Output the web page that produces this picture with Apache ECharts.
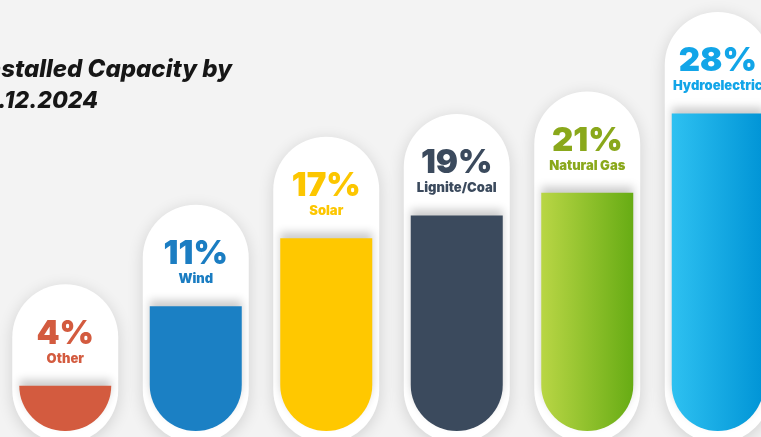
<!DOCTYPE html>
<html>
<head>
<meta charset="utf-8">
<style>
  html, body { margin: 0; padding: 0; background: #f3f3f3; }
  #chart { width: 761px; height: 437px; }
</style>
<script src="https://cdn.jsdelivr.net/npm/echarts@6/dist/echarts.min.js"></script>
</head>
<body>
<div id="chart"></div>
<script>
// Installed capacity share by source (%)
const categories = ['Other', 'Wind', 'Solar', 'Lignite/Coal', 'Natural Gas', 'Hydroelectric'];
const shares = [4, 11, 17, 19, 21, 28];

// Room above each fill for the percentage and name, in axis units
const HEADROOM = 10;
const AXIS_MAX = 38;

const grad = (a, b) => new echarts.graphic.LinearGradient(0, 0, 1, 0, [
  { offset: 0, color: a }, { offset: 1, color: b }
]);
const fillColors = ['#d35b3f', '#1b80c4', '#ffc800', '#3b4a5d',
  grad('#b9d645', '#67ac14'), grad('#2ec1f1', '#0094d6')];
const textColors = ['#d35b3f', '#1b7dc2', '#fcc600', '#3b4a5d', '#8aa81b', '#12a5e8'];

const FONT = 'Inter';

const chart = echarts.init(document.getElementById('chart'));

const labelFor = i => ({
  show: true,
  position: 'top',
  distance: 19,
  formatter: p => '{p|' + p.value + '%}\n{n|' + p.name + '}',
  rich: {
    p: { fontFamily: FONT, fontWeight: 900, fontSize: 33, lineHeight: 34, color: textColors[i], align: 'center' },
    n: { fontFamily: FONT, fontWeight: 900, fontSize: 13, lineHeight: 16, color: textColors[i], align: 'center' }
  }
});

chart.setOption({
  backgroundColor: '#f3f3f3',
  animation: false,
  grid: [
    { left: 0, width: 783, top: 12, height: 431, outerBoundsMode: 'none' },
    { left: 0, width: 783, top: 0, height: 431, outerBoundsMode: 'none' }
  ],
  xAxis: [
    { type: 'category', gridIndex: 0, data: categories, show: false },
    { type: 'category', gridIndex: 1, data: categories, show: false }
  ],
  yAxis: [
    { type: 'value', gridIndex: 0, min: 0, max: AXIS_MAX, show: false },
    { type: 'value', gridIndex: 1, min: 0, max: AXIS_MAX, show: false }
  ],
  graphic: [
    { type: 'text', x: 232, y: 70, silent: true,
      style: { text: 'Installed Capacity by', textAlign: 'right', textVerticalAlign: 'middle',
        font: 'italic 800 24px ' + FONT, fill: '#161616' } },
    { type: 'text', x: 98, y: 101, silent: true,
      style: { text: '31.12.2024', textAlign: 'right', textVerticalAlign: 'middle',
        font: 'italic 800 23px ' + FONT, fill: '#161616' } }
  ],
  series: [
    {
      // white capsule behind each fill
      type: 'bar',
      xAxisIndex: 0, yAxisIndex: 0,
      barWidth: 106,
      clip: false,
      silent: true,
      data: shares.map(v => v + HEADROOM),
      itemStyle: {
        color: '#ffffff',
        borderRadius: 53,
        shadowColor: 'rgba(0,0,0,0.14)',
        shadowBlur: 16,
        shadowOffsetY: 3
      }
    },
    {
      type: 'bar',
      xAxisIndex: 1, yAxisIndex: 1,
      barWidth: 92,
      clip: false,
      data: shares.map((v, i) => ({
        value: v,
        name: categories[i],
        itemStyle: {
          color: fillColors[i],
          borderRadius: [0, 0, 46, 46],
          shadowColor: 'rgba(0,0,0,0.2)',
          shadowBlur: 8,
          shadowOffsetY: -6
        },
        label: labelFor(i)
      }))
    }
  ]
});
</script>
</body>
</html>
